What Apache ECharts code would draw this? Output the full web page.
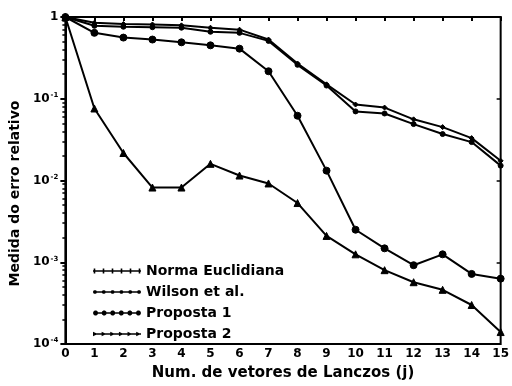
<!DOCTYPE html>
<html>
<head>
<meta charset="utf-8">
<script src="https://cdn.jsdelivr.net/npm/echarts@6/dist/echarts.min.js"></script>
<style>
  html, body { margin: 0; padding: 0; background: #fff; }
  #main { width: 512px; height: 386px; }
</style>
</head>
<body>
<div id="main"></div>
<script>
// eixo x: numero de vetores de Lanczos
const xVals = [0, 1, 2, 3, 4, 5, 6, 7, 8, 9, 10, 11, 12, 13, 14, 15]
const yTicks = [1e-4, 1e-3, 1e-2, 1e-1, 1]
const yMinorTicks = [
  2e-4, 3e-4, 4e-4, 5e-4, 6e-4, 7e-4, 8e-4, 9e-4,
  2e-3, 3e-3, 4e-3, 5e-3, 6e-3, 7e-3, 8e-3, 9e-3,
  2e-2, 3e-2, 4e-2, 5e-2, 6e-2, 7e-2, 8e-2, 9e-2,
  0.2, 0.3, 0.4, 0.5, 0.6, 0.7, 0.8, 0.9
]

const seriesNames = ['Norma Euclidiana', 'Wilson et al.', 'Proposta 1', 'Proposta 2']
const normaEuclidiana = [1, 0.85, 0.82, 0.81, 0.79, 0.74, 0.70, 0.53, 0.27, 0.15, 0.085, 0.078, 0.056, 0.045, 0.033, 0.0174]
const wilson = [1, 0.78, 0.76, 0.75, 0.74, 0.66, 0.64, 0.51, 0.26, 0.145, 0.070, 0.066, 0.049, 0.037, 0.0295, 0.0152]
const proposta1 = [1, 0.64, 0.56, 0.53, 0.49, 0.45, 0.41, 0.217, 0.062, 0.0132, 0.0025, 0.00148, 0.00092, 0.00125, 0.00072, 0.00063]
const proposta2 = [1, 0.076, 0.0217, 0.0082, 0.0082, 0.016, 0.0115, 0.0092, 0.0053, 0.0021, 0.00125, 0.0008, 0.00057, 0.00046, 0.0003, 0.00014]

const symbols = ['diamond', 'circle', 'circle', 'triangle']
const symbolSizes = [5, 5, 7, 7]

const font = 'DejaVu Sans'
const chart = echarts.init(document.getElementById('main'))

function pairs(vals) {
  return xVals.map((x, i) => [x, vals[i]])
}

const allData = [normaEuclidiana, wilson, proposta1, proposta2]

/** icone da legenda: linha com varios marcadores */
function legendIcon(kind) {
  let p = 'M0 4.2 L48 4.2 L48 5.8 L0 5.8 Z'
  for (let k = 0; k < 6; k++) {
    const cx = 1.5 + k * 9
    if (kind === 'cross') {
      p += ' M' + (cx - 0.8) + ' 2.5 L' + (cx + 0.8) + ' 2.5 L' + (cx + 0.8) + ' 7.5 L' + (cx - 0.8) + ' 7.5 Z'
    } else if (kind === 'tri') {
      p += ' M' + (cx - 3.5) + ' 2.6 L' + (cx + 1.5) + ' 5 L' + (cx - 3.5) + ' 7.4 Z'
    } else {
      const r = kind === 'big' ? 2.7 : 2
      for (let a = 0; a < 10; a++) {
        const t = a / 10 * Math.PI * 2
        p += (a === 0 ? ' M' : ' L') + (cx + r * Math.cos(t)).toFixed(2) + ' ' + (5 + r * Math.sin(t)).toFixed(2)
      }
      p += ' Z'
    }
  }
  return 'path://' + p
}
const iconKinds = ['cross', 'small', 'big', 'tri']

const option = {
  animation: false,
  backgroundColor: '#fff',
  textStyle: { fontFamily: font, color: '#000' },
  grid: {
    left: 65, right: 6, top: 17, bottom: 37,
    show: true, borderColor: '#000', borderWidth: 2
  },
  legend: {
    orient: 'vertical',
    left: 88, top: 259,
    itemWidth: 48, itemHeight: 10, itemGap: 7,
    textStyle: { fontFamily: font, fontSize: 14, fontWeight: 'bold', color: '#000' },
    data: seriesNames.map((n, i) => ({
      name: n,
      icon: legendIcon(iconKinds[i]),
      itemStyle: { color: '#000', borderWidth: 0 }
    }))
  },
  xAxis: {
    type: 'value', min: 0, max: 15, interval: 1,
    name: 'Num. de vetores de Lanczos (j)',
    nameLocation: 'middle', nameGap: 22,
    nameTextStyle: { fontFamily: font, fontSize: 15, fontWeight: 'bold', color: '#000' },
    axisLine: { lineStyle: { color: '#000', width: 2 } },
    axisTick: { lineStyle: { color: '#000', width: 2 }, length: 4 },
    axisLabel: { fontFamily: font, fontSize: 12, fontWeight: 'bold', color: '#000', margin: 4 },
    splitLine: { show: false }
  },
  yAxis: [
    {
      type: 'log', logBase: 10, min: 1e-4, max: 1,
      name: 'Medida do erro relativo',
      nameLocation: 'middle', nameGap: 40,
      nameTextStyle: { fontFamily: font, fontSize: 14, fontWeight: 'bold', color: '#000', padding: [0, 26, 0, 0] },
      axisLine: { show: true, lineStyle: { color: '#000', width: 2 } },
      axisTick: { show: true, length: 5, lineStyle: { color: '#000', width: 2 } },
      axisLabel: {
        margin: 7,
        formatter: function (v) {
          if (v >= 1) return '{b|1}'
          const e = Math.round(Math.log10(v))
          return '{b|10}{s|' + e + '}'
        },
        rich: {
          b: { fontFamily: font, fontSize: 12, fontWeight: 'bold', color: '#000' },
          s: { fontFamily: font, fontSize: 7, fontWeight: 'bold', color: '#000', padding: [0, 0, 7, 1] }
        }
      },
      splitLine: { show: false }
    },
    {
      // eixo auxiliar (expoentes) so para as marcas menores
      type: 'value', min: -4, max: 0, position: 'left',
      axisLine: { show: false },
      axisLabel: { show: false },
      axisTick: { show: true, length: 3, customValues: yMinorTicks.map(Math.log10), lineStyle: { color: '#000', width: 1.5 } },
      splitLine: { show: false }
    },
    {
      type: 'value', min: -4, max: 0, position: 'right',
      axisLine: { show: false },
      axisLabel: { show: false },
      axisTick: { show: true, inside: true, length: 4, customValues: yTicks.map(Math.log10), lineStyle: { color: '#000', width: 1.5 } },
      splitLine: { show: false }
    }
  ],
  series: seriesNames.map((name, i) => ({
    name: name,
    type: 'line',
    yAxisIndex: 0,
    data: pairs(allData[i]),
    symbol: symbols[i],
    symbolSize: symbolSizes[i],
    showSymbol: true,
    lineStyle: { color: '#000', width: 2 },
    itemStyle: { color: '#000', borderColor: '#000' }
  }))
}

chart.setOption(option)
</script>
</body>
</html>
